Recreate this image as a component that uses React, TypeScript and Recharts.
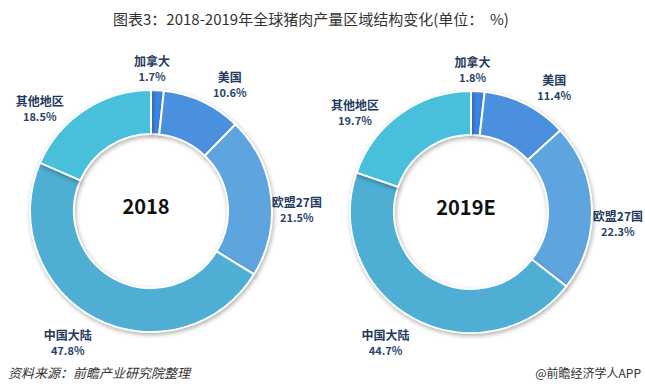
import React from 'react';
import { PieChart, Pie, Cell } from 'recharts';

const regions = ['加拿大', '美国', '欧盟27国', '中国大陆', '其他地区'];
const share2018 = [1.7, 10.6, 21.5, 47.8, 18.5];
const share2019 = [1.8, 11.4, 22.3, 44.7, 19.7];
const colors = ['#3c87e1', '#4a90de', '#5ea5df', '#4eaed3', '#48c0dc'];

// per-slice label offsets (px) on top of the radial position, Excel "best fit" style
const labelNudge = [
  [-7, 8],
  [15, 10],
  [-3, 18],
  [-14, -1],
  [-29, 23],
];

const data2018 = regions.map((name, i) => ({ name, value: share2018[i] }));
const data2019 = regions.map((name, i) => ({ name, value: share2019[i] }));

const RADIAN = Math.PI / 180;

const renderLabel = (props: any) => {
  const { cx, cy, midAngle, name, value, index } = props;
  const r = 150;
  const [dx, dy] = labelNudge[index];
  const x = cx + r * Math.cos(-midAngle * RADIAN) + dx;
  const y = cy + r * Math.sin(-midAngle * RADIAN) + dy;
  return (
    <g>
      <text x={x} y={y - 3} textAnchor="middle" fill="#1f3a60" fontSize={12} fontWeight="bold">
        {name}
      </text>
      <text x={x} y={y + 12} textAnchor="middle" fill="#2b4468" fontSize={11} fontWeight="bold">
        {value.toFixed(1)}%
      </text>
    </g>
  );
};

export default function App() {
  return (
    <div style={{ position: 'absolute', left: 0, top: 0, width: 645, height: 392, background: '#fff', fontFamily: '"Noto Sans CJK SC", "Liberation Sans", sans-serif' }}>
      <style>{`.recharts-sector { filter: drop-shadow(1.5px 2px 2px rgba(0,0,0,0.3)); }`}</style>
      <div style={{ position: 'absolute', top: 8, left: 113, fontSize: 15, color: '#333', whiteSpace: 'nowrap' }}>
        图表3：2018-2019年全球猪肉产量区域结构变化(单位：&nbsp;&nbsp;%)
      </div>
      <PieChart width={645} height={392}>
        <Pie
          data={data2018}
          dataKey="value"
          nameKey="name"
          cx={146}
          cy={206}
          innerRadius={77}
          outerRadius={121}
          startAngle={90}
          endAngle={-270}
          stroke="#fff"
          strokeWidth={2}
          label={renderLabel}
          labelLine={false}
          isAnimationActive={false}
        >
          {data2018.map((d, i) => (
            <Cell key={d.name} fill={colors[i]} />
          ))}
        </Pie>
        <Pie
          data={data2019}
          dataKey="value"
          nameKey="name"
          cx={466}
          cy={207}
          innerRadius={77}
          outerRadius={121}
          startAngle={90}
          endAngle={-270}
          stroke="#fff"
          strokeWidth={2}
          label={renderLabel}
          labelLine={false}
          isAnimationActive={false}
        >
          {data2019.map((d, i) => (
            <Cell key={d.name} fill={colors[i]} />
          ))}
        </Pie>
        <text x={146} y={214} textAnchor="middle" fontSize={20} fontWeight="bold" fill="#111">2018</text>
        <text x={466} y={215} textAnchor="middle" fontSize={20} fontWeight="bold" fill="#111">2019E</text>
      </PieChart>
      <div style={{ position: 'absolute', left: 8, top: 363, fontSize: 13, fontStyle: 'italic', color: '#333' }}>
        资料来源：前瞻产业研究院整理
      </div>
      <div style={{ position: 'absolute', right: 4, top: 364, fontSize: 12, color: '#333' }}>
        @前瞻经济学人APP
      </div>
    </div>
  );
}
